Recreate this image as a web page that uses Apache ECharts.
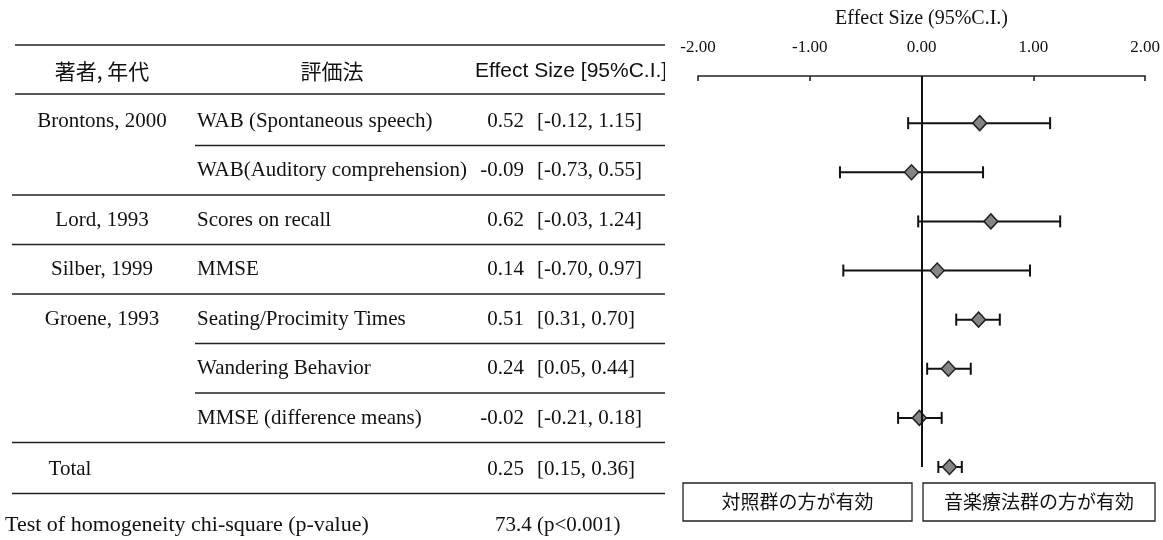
<!DOCTYPE html>
<html>
<head>
<meta charset="utf-8">
<script src="https://cdn.jsdelivr.net/npm/echarts@6/dist/echarts.min.js"></script>
<style>
  html, body { margin: 0; padding: 0; background: #fff; }
  #chartmain { width: 1163px; height: 540px; }
</style>
</head>
<body>
<div id="chartmain"></div>
<script>
// 表のデータ
var authors = ['Brontons, 2000', '', 'Lord, 1993', 'Silber, 1999', 'Groene, 1993', '', '', 'Total'];
var methods = ['WAB (Spontaneous speech)', 'WAB(Auditory comprehension)', 'Scores on recall', 'MMSE',
  'Seating/Procimity Times', 'Wandering Behavior', 'MMSE (difference means)', ''];
var effect = [0.52, -0.09, 0.62, 0.14, 0.51, 0.24, -0.02, 0.25];
var ciLow = [-0.12, -0.73, -0.03, -0.70, 0.31, 0.05, -0.21, 0.15];
var ciHigh = [1.15, 0.55, 1.24, 0.97, 0.70, 0.44, 0.18, 0.36];
var xTicks = [-2, -1, 0, 1, 2];
var headers = ['著者, 年代', '評価法', 'Effect Size [95%C.I.]'];
var homogeneity = ['Test of homogeneity chi-square (p-value)', '73.4 (p<0.001)'];
var footLabels = ['対照群の方が有効', '音楽療法群の方が有効'];

var serif = "'Liberation Serif', 'Noto Sans CJK JP', serif";
var cjk = "'Noto Sans CJK JP', sans-serif";

var rowTop = 121, rowStep = 49.5; // 表の行の位置
function rowY(i) { return rowTop + i * rowStep; }

var graphics = [];
function txt(x, y, s, align, font, size) {
  graphics.push({
    type: 'text', x: x, y: y, silent: true, z: 10,
    style: { text: s, fill: '#111', font: (size || 21) + 'px ' + font, textAlign: align, textVerticalAlign: 'middle' }
  });
}
function hline(x1, x2, y) {
  graphics.push({
    type: 'line', silent: true, z: 10,
    shape: { x1: x1, y1: y, x2: x2, y2: y },
    style: { stroke: '#222', lineWidth: 1.6 }
  });
}

// ヘッダー
hline(15, 665, 45);
txt(102, 71, headers[0], 'center', cjk, 21);
txt(332, 71, headers[1], 'center', cjk, 21);
txt(475, 71, headers[2], 'left', "'Liberation Sans', sans-serif", 21);
// ヘッダーの右端を切る
graphics.push({ type: 'rect', silent: true, z: 11, shape: { x: 665, y: 58, width: 20, height: 28 }, style: { fill: '#fff' } });
hline(15, 665, 94);

// 行
for (var i = 0; i < effect.length; i++) {
  var last = (i == effect.length - 1);
  var y = rowY(i) + (last ? 2 : 0);
  txt(last ? 70 : 102, y, authors[i], 'center', serif, 21);
  txt(197, y, methods[i], 'left', serif, 21);
  txt(524, y, effect[i].toFixed(2), 'right', serif, 21);
  txt(537, y, '[' + ciLow[i].toFixed(2) + ', ' + ciHigh[i].toFixed(2) + ']', 'left', serif, 21);
  var partial = (authors[i + 1] === '' && !last);
  hline(partial ? 195 : 12, 665, rowY(i) + (last ? 26 : 24.5));
}
txt(5, 525, homogeneity[0], 'left', serif, 22);
txt(495, 525, homogeneity[1], 'left', serif, 21);

// 下の枠
var boxes = [[683, 912], [923, 1155]];
for (var b = 0; b < boxes.length; b++) {
  graphics.push({
    type: 'rect', silent: true,
    shape: { x: boxes[b][0], y: 483, width: boxes[b][1] - boxes[b][0], height: 38 },
    style: { fill: '#fff', stroke: '#222', lineWidth: 1.3 }
  });
  txt((boxes[b][0] + boxes[b][1]) / 2, 502, footLabels[b], 'center', cjk, 19);
}

var barData = [], pointData = [];
for (var k = 0; k < effect.length; k++) {
  barData.push([ciLow[k], ciHigh[k], k + 1]);
  pointData.push([effect[k], k + 1]);
}

var option = {
  animation: false,
  backgroundColor: '#fff',
  grid: { left: 698, right: 12, top: 76, bottom: 73 },
  xAxis: {
    type: 'value', position: 'top', min: xTicks[0], max: xTicks[xTicks.length - 1], interval: 1,
    name: 'Effect Size (95%C.I.)', nameLocation: 'middle', nameGap: 47,
    nameTextStyle: { fontFamily: serif, fontSize: 20, color: '#111' },
    axisLine: { show: true, lineStyle: { color: '#222', width: 1.6 } },
    axisTick: { show: true, inside: true, length: 5, lineStyle: { color: '#222', width: 1.6 } },
    axisLabel: { margin: 20, fontFamily: serif, fontSize: 17, color: '#111',
      formatter: function (v) { return v.toFixed(2); } },
    splitLine: { show: false }
  },
  yAxis: { type: 'value', inverse: true, min: 0.04, max: 8, show: false },
  series: [{
    type: 'custom',
    data: barData,
    renderItem: function (params, api) {
      var p1 = api.coord([api.value(0), api.value(2)]);
      var p2 = api.coord([api.value(1), api.value(2)]);
      var st = { stroke: '#111', lineWidth: 2 };
      return {
        type: 'group',
        children: [
          { type: 'line', shape: { x1: p1[0], y1: p1[1], x2: p2[0], y2: p2[1] }, style: st },
          { type: 'line', shape: { x1: p1[0], y1: p1[1] - 6, x2: p1[0], y2: p1[1] + 6 }, style: st },
          { type: 'line', shape: { x1: p2[0], y1: p2[1] - 6, x2: p2[0], y2: p2[1] + 6 }, style: st }
        ]
      };
    },
    markLine: {
      silent: true, symbol: 'none', label: { show: false },
      lineStyle: { color: '#111', width: 2, type: 'solid' },
      data: [{ xAxis: 0 }]
    },
    z: 2
  }, {
    type: 'scatter',
    data: pointData,
    symbol: 'diamond',
    symbolSize: [14, 15],
    itemStyle: { color: '#858585', borderColor: '#222', borderWidth: 1.5, opacity: 1 },
    z: 3
  }],
  graphic: graphics
};

var myChart = echarts.init(document.getElementById('chartmain'));
myChart.setOption(option);
</script>
</body>
</html>
